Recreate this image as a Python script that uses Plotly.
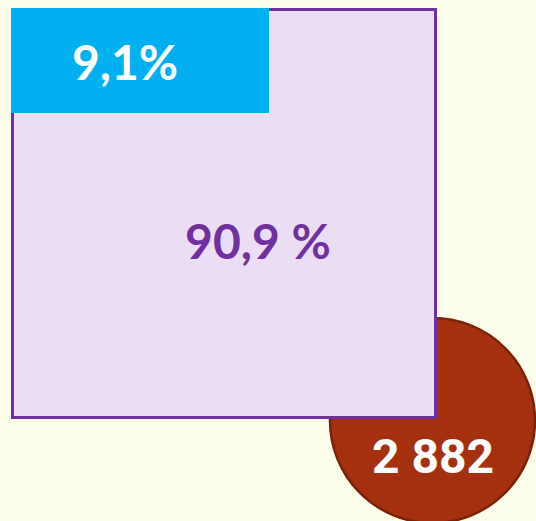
import plotly.graph_objects as go

# ---- data ----
share_labels = ["small share", "large share"]
share_values = [9.1, 90.9]          # percent
total_count = [2882]

def fmt_pct(v, space=False):
    s = f"{v:.1f}".replace(".", ",")
    return s + (" %" if space else "%")

def fmt_int(v):
    return f"{v:,}".replace(",", " ")

W, H = 536, 521
BG = "#FDFEEC"

# layout geometry (pixels in the data coordinates of the hidden axes)
SQ = dict(x0=12.5, y0=9.5, x1=435.5, y1=417.5)
BL = dict(x0=11, y0=8, x1=269, y1=113)
CI = dict(x0=330, y0=318, x1=535, y1=523)

fig = go.Figure()

shapes = [
    dict(type="circle", xref="x", yref="y", **CI,
         fillcolor="#A5300F", line=dict(color="#7A2208", width=2.5), layer="below"),
    dict(type="rect", xref="x", yref="y", **SQ,
         fillcolor="#EBDDF4", line=dict(color="#7030A0", width=3), layer="below"),
    dict(type="rect", xref="x", yref="y", **BL,
         fillcolor="#00B0F0", line=dict(width=0), layer="below"),
]

fig.add_trace(go.Scatter(
    x=[125, 258], y=[68, 247],
    text=[fmt_pct(share_values[0]), fmt_pct(share_values[1], space=True)],
    mode="text",
    textfont=dict(family="Lato", size=48, color=["#FFFFFF", "#7030A0"], weight="bold"),
    textposition="middle center", hoverinfo="skip", showlegend=False,
))
fig.add_trace(go.Scatter(
    x=[433], y=[461],
    text=[fmt_int(total_count[0])],
    mode="text",
    textfont=dict(family="Roboto", size=48, color="#FFFFFF", weight="bold"),
    textposition="middle center", hoverinfo="skip", showlegend=False,
))

fig.update_layout(
    width=W, height=H,
    margin=dict(l=0, r=0, t=0, b=0),
    paper_bgcolor=BG, plot_bgcolor=BG,
    shapes=shapes,
    xaxis=dict(range=[0, W], visible=False, fixedrange=True),
    yaxis=dict(range=[H, 0], visible=False, fixedrange=True),
)

fig.write_html(
    "out.html",
    config={"displayModeBar": False},
    post_script=f"document.body.style.margin='0';document.body.style.background='{BG}';",
)
